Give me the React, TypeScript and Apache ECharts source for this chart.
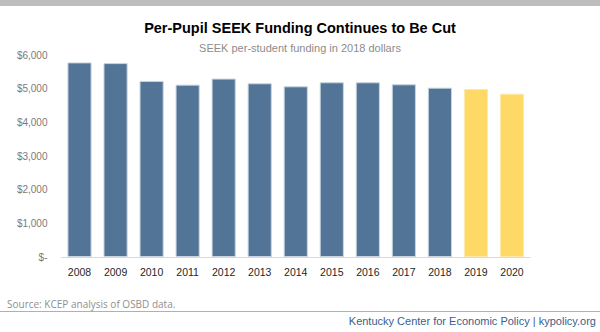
import React, { useEffect, useRef } from "react";
import * as echarts from "echarts";

const years = ["2008", "2009", "2010", "2011", "2012", "2013", "2014", "2015", "2016", "2017", "2018", "2019", "2020"];
const funding = [5780, 5760, 5230, 5120, 5300, 5160, 5070, 5190, 5190, 5130, 5030, 4990, 4850];
const projected = ["2019", "2020"];
const yTicks = [0, 1000, 2000, 3000, 4000, 5000, 6000];

const titleText = "Per-Pupil SEEK Funding Continues to Be Cut";
const subtitleText = "SEEK per-student funding in 2018 dollars";
const sourceText = "Source: KCEP analysis of OSBD data.";
const creditText = "Kentucky Center for Economic Policy | kypolicy.org";

export default function App() {
  const ref = useRef<HTMLDivElement>(null);
  useEffect(() => {
    if (!ref.current) return;
    const chart = echarts.init(ref.current, null, { renderer: "svg" });
    chart.setOption({
      animation: false,
      backgroundColor: "#ffffff",
      grid: { left: 61.5, right: 70, top: 55, bottom: 75, containLabel: false },
      xAxis: {
        type: "category",
        data: years,
        axisLine: { lineStyle: { color: "#d9d9d9", width: 1 } },
        axisTick: { show: false },
        axisLabel: { color: "#262626", fontSize: 10.5, fontFamily: "Liberation Sans", margin: 9 },
      },
      yAxis: {
        type: "value",
        min: yTicks[0],
        max: yTicks[yTicks.length - 1],
        interval: 1000,
        splitLine: { show: false },
        axisLine: { show: false },
        axisTick: { show: false },
        axisLabel: {
          color: "#7a7a7a",
          fontSize: 10,
          fontFamily: "Liberation Sans",
          margin: 14,
          formatter: (v: number) => (v === 0 ? "$-" : "$" + v.toLocaleString("en-US")),
        },
      },
      series: [
        {
          type: "bar",
          barCategoryGap: "33%",
          data: funding.map((v, i) => ({
            value: v,
            itemStyle: {
              color: projected.includes(years[i]) ? "#ffd966" : "#527597",
              borderColor: projected.includes(years[i]) ? "#ffe9a8" : "#c9d4e0",
              borderWidth: 1,
            },
          })),
        },
      ],
      graphic: [
        { type: "rect", left: 0, top: 0, shape: { width: 600, height: 6 }, style: { fill: "#bdbdbd" } },
        {
          type: "text",
          x: 300,
          y: 27.5,
          style: {
            text: titleText,
            fill: "#000000",
            fontSize: 14.5,
            fontWeight: "bold",
            fontFamily: "Liberation Sans",
            align: "center",
            verticalAlign: "middle",
          },
        },
        {
          type: "text",
          x: 300,
          y: 47.5,
          style: {
            text: subtitleText,
            fill: "#8c8c8c",
            fontSize: 11,
            fontFamily: "Liberation Sans",
            align: "center",
            verticalAlign: "middle",
          },
        },
        {
          type: "text",
          x: 7,
          y: 304,
          style: {
            text: sourceText,
            fill: "#8f8f8f",
            fontSize: 10,
            fontFamily: "Open Sans",
            align: "left",
            verticalAlign: "middle",
          },
        },
        {
          type: "line",
          shape: { x1: 0, y1: 311.5, x2: 600, y2: 311.5 },
          style: { stroke: "#b0b0b0", lineWidth: 1 },
        },
        {
          type: "text",
          x: 596,
          y: 321,
          style: {
            text: creditText,
            fill: "#3a5e8c",
            fontSize: 11,
            fontFamily: "Liberation Sans",
            align: "right",
            verticalAlign: "middle",
          },
        },
      ],
    });
    return () => chart.dispose();
  }, []);
  return <div ref={ref} style={{ width: 600, height: 332, position: "absolute", left: 0, top: 0 }} />;
}
